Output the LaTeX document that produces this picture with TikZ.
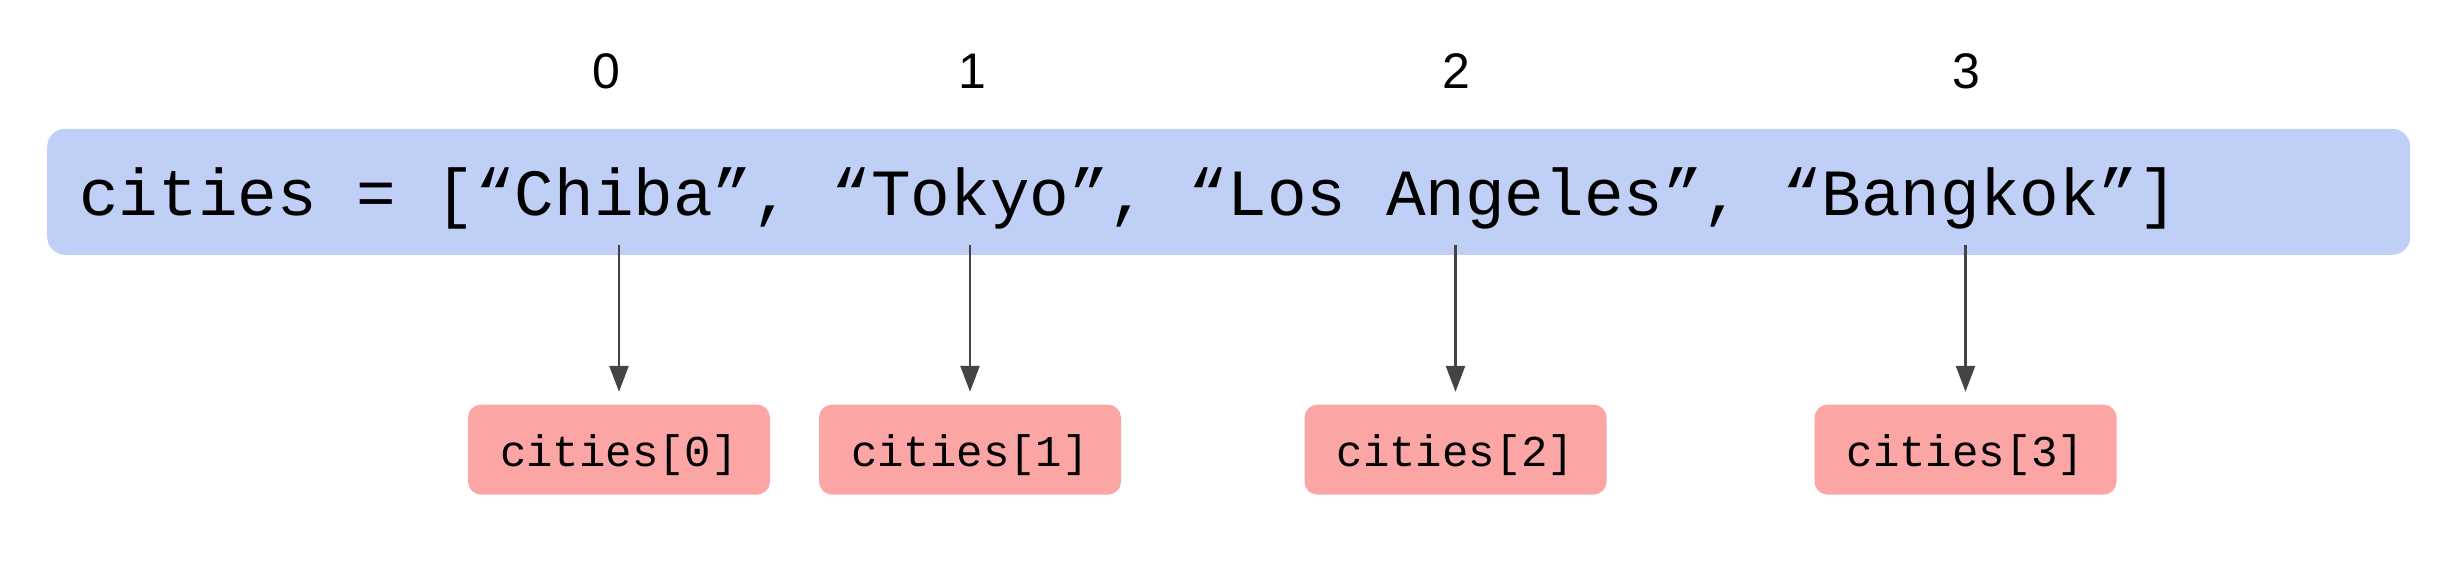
\documentclass[tikz,border=0pt]{standalone}
\usepackage{fontspec}
\setmainfont{Liberation Sans}
\newfontfamily\codefont{Liberation Mono}
\usetikzlibrary{arrows.meta}
\definecolor{listblue}{HTML}{BFCFF5}
\definecolor{elemred}{HTML}{FCA5A5}
\definecolor{arrowgray}{HTML}{444444}
\tikzset{
  listbox/.style={fill=listblue, draw=none, rounded corners=18pt, minimum width=2363pt, minimum height=126pt, inner sep=0pt, anchor=north west},
  listcode/.style={font=\codefont\fontsize{66}{70}\selectfont, inner sep=0pt, anchor=base west},
  idxlabel/.style={font=\fontsize{50}{54}\selectfont, inner sep=0pt},
  elembox/.style={fill=elemred, draw=none, rounded corners=13pt, minimum width=302pt, minimum height=90pt, inner sep=0pt, font=\codefont\fontsize{44}{48}\selectfont, text height=32.8pt, text depth=0pt},
  ptr/.style={draw=arrowgray, line width=2.5pt, -{Triangle[length=26pt,width=19pt]}, shorten >=12.6pt}
}
\begin{document}
\begin{tikzpicture}[x=1pt,y=-1pt]
\useasboundingbox (0,0) rectangle (2454,560);
\node[listbox] (list) at (47,128.6) {};
\node[listcode] (code) at (79,215) {cities = [“Chiba”, “Tokyo”, “Los Angeles”, “Bangkok”]};
\node[idxlabel] (i0) at (606,71) {0};
\node[idxlabel] (i1) at (972,71) {1};
\node[idxlabel] (i2) at (1456,71) {2};
\node[idxlabel] (i3) at (1966,71) {3};
\node[elembox] (e0) at (619,449.6) {cities[0]};
\node[elembox] (e1) at (970,449.6) {cities[1]};
\node[elembox] (e2) at (1455.5,449.6) {cities[2]};
\node[elembox] (e3) at (1965.5,449.6) {cities[3]};
\coordinate (s0) at (619,245);
\coordinate (s1) at (970,245);
\coordinate (s2) at (1455.5,245);
\coordinate (s3) at (1965.5,245);
\draw[ptr] (s0) -- (e0.north);
\draw[ptr] (s1) -- (e1.north);
\draw[ptr] (s2) -- (e2.north);
\draw[ptr] (s3) -- (e3.north);
\end{tikzpicture}
\end{document}
